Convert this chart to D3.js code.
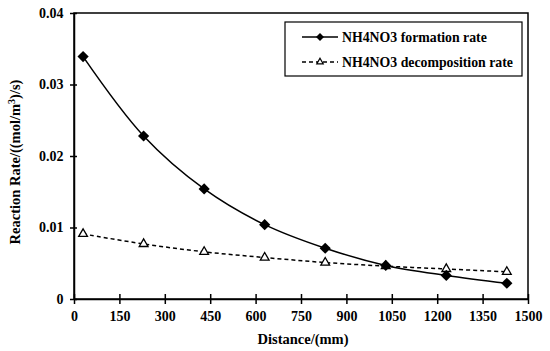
<!DOCTYPE html>
<html><head><meta charset="utf-8">
<script src="https://cdn.jsdelivr.net/npm/d3@7"></script>
<style>body{margin:0;background:#fff}svg{display:block}text{font-family:"Liberation Serif","Times New Roman",serif;font-weight:bold;fill:#000}</style>
</head><body>
<script>
const distances = [30, 230, 430, 630, 830, 1030, 1230, 1430];
const formationRate = [0.0339, 0.0228, 0.0154, 0.0104, 0.0071, 0.0047, 0.0033, 0.0022];
const decompositionRate = [0.0091, 0.0077, 0.0066, 0.0058, 0.0051, 0.0046, 0.0042, 0.0038];
const xTicks = [0,150,300,450,600,750,900,1050,1200,1350,1500];
const yTicks = [0,0.01,0.02,0.03,0.04];
const seriesNames = ["NH4NO3 formation rate","NH4NO3 decomposition rate"];

const W=550,H=351, L=74, R=528, T=13, B=299;
const svg=d3.select("body").append("svg").attr("width",W).attr("height",H);
const x=d3.scaleLinear().domain([0,1500]).range([L,R]);
const y=d3.scaleLinear().domain([0,0.04]).range([B,T]);

svg.append("rect").attr("x",L).attr("y",T).attr("width",R-L).attr("height",B-T)
  .attr("fill","none").attr("stroke","#000").attr("stroke-width",1.5);

const xa=svg.append("g").attr("transform",`translate(0,${B})`)
  .call(d3.axisBottom(x).tickValues(xTicks).tickSize(5).tickSizeOuter(0).tickFormat(d3.format("d")));
xa.select(".domain").attr("stroke-width",1.5);
xa.selectAll(".tick line").attr("y1",-5).attr("stroke-width",1.5);
xa.selectAll(".tick text").attr("font-size",14).attr("dy","1.0em").attr("font-family","Liberation Serif").attr("font-weight","bold");

const ya=svg.append("g").attr("transform",`translate(${L},0)`)
  .call(d3.axisLeft(y).tickValues(yTicks).tickSize(4).tickSizeOuter(0).tickFormat(d=>d===0?"0":d3.format(".2f")(d)));
ya.select(".domain").attr("stroke-width",1.5);
ya.selectAll(".tick line").attr("x1",3).attr("stroke-width",1.5);
ya.selectAll(".tick text").attr("font-size",14).attr("dx","-0.25em").attr("font-family","Liberation Serif").attr("font-weight","bold");

svg.append("text").attr("x",(L+R)/2+2).attr("y",344).attr("text-anchor","middle").attr("font-size",14.5).text("Distance/(mm)");
const yt=svg.append("text").attr("transform",`translate(20,162) rotate(-90)`).attr("text-anchor","middle").attr("font-size",14.5);
yt.append("tspan").text("Reaction Rate/((mol/m");
yt.append("tspan").attr("font-size",10).attr("dy",-5).text("3");
yt.append("tspan").attr("dy",5).text(")/s)");

const line=d3.line().x(d=>x(d[0])).y(d=>y(d[1])).curve(d3.curveCatmullRom.alpha(0.5));
const f=distances.map((d,i)=>[d,formationRate[i]]);
const dcp=distances.map((d,i)=>[d,decompositionRate[i]]);

svg.append("path").attr("d",line(dcp)).attr("fill","none").attr("stroke","#000").attr("stroke-width",1.5).attr("stroke-dasharray","4,3");
svg.append("path").attr("d",line(f)).attr("fill","none").attr("stroke","#000").attr("stroke-width",1.5);

const diamond=d3.symbol().type(d3.symbolDiamond2).size(80);
const tri=d3.symbol().type(d3.symbolTriangle2).size(55);
svg.selectAll(".tri").data(dcp).join("path").attr("d",tri)
  .attr("transform",d=>`translate(${x(d[0])},${y(d[1])})`).attr("fill","#fff").attr("stroke","#000").attr("stroke-width",1.3);
svg.selectAll(".dia").data(f).join("path").attr("d",diamond)
  .attr("transform",d=>`translate(${x(d[0])},${y(d[1])})`).attr("fill","#000");

const lg=svg.append("g");
lg.append("rect").attr("x",285).attr("y",22).attr("width",237).attr("height",54).attr("fill","#fff").attr("stroke","#000").attr("stroke-width",1.2);
const ly=[37,62];
lg.append("line").attr("x1",302).attr("x2",338).attr("y1",ly[0]).attr("y2",ly[0]).attr("stroke","#000").attr("stroke-width",1.5);
lg.append("path").attr("d",d3.symbol().type(d3.symbolDiamond2).size(40)).attr("transform",`translate(320,${ly[0]})`).attr("fill","#000");
lg.append("line").attr("x1",302).attr("x2",338).attr("y1",ly[1]).attr("y2",ly[1]).attr("stroke","#000").attr("stroke-width",1.5).attr("stroke-dasharray","4,3");
lg.append("path").attr("d",d3.symbol().type(d3.symbolTriangle2).size(30)).attr("transform",`translate(320,${ly[1]})`).attr("fill","#fff").attr("stroke","#000").attr("stroke-width",1.2);
seriesNames.forEach((n,i)=>lg.append("text").attr("x",342).attr("y",ly[i]).attr("dy","0.35em").attr("font-size",13.8).text(n));
</script>
</body></html>
